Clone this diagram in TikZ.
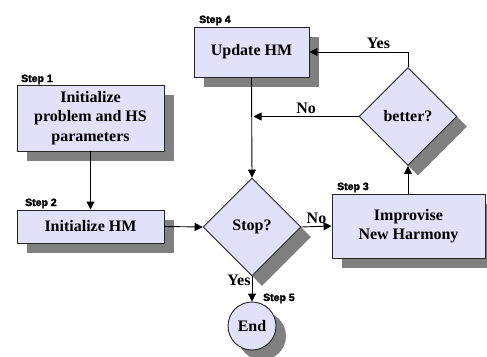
\documentclass[tikz,border=0pt]{standalone}
\usepackage{fontspec}
\setmainfont{Liberation Serif}
\setsansfont{Liberation Sans}
\newfontfamily\stepfont[FakeBold=2.5]{Liberation Sans Bold}
\usetikzlibrary{shapes.geometric,shadows,arrows.meta}
\definecolor{boxfill}{RGB}{225,225,250}
\definecolor{shadowgray}{RGB}{128,128,128}
\begin{document}
\begin{tikzpicture}[x=1pt,y=-1pt,
  shadowed/.style={draw=black!85,line width=0.9pt,fill=boxfill,
    drop shadow={shadow xshift=10pt,shadow yshift=-10pt,fill=shadowgray,opacity=1}},
  stepbox/.style={shadowed,rectangle,inner sep=0pt,align=center,
    font=\bfseries\fontsize{16}{19.5}\selectfont},
  decision/.style={shadowed,diamond,inner sep=0pt,minimum width=98pt,minimum height=98pt,
    font=\bfseries\fontsize{16}{19.5}\selectfont},
  endnode/.style={shadowed,circle,inner sep=0pt,minimum size=48pt,
    font=\bfseries\fontsize{16}{19.5}\selectfont},
  steplabel/.style={font=\stepfont\fontsize{10.5}{12}\selectfont,inner sep=0pt,anchor=base west},
  edgelabel/.style={font=\bfseries\fontsize{16}{19}\selectfont,inner sep=0pt},
  arr/.style={line width=0.9pt,-{Triangle[length=8pt,width=8pt]}}
]
\useasboundingbox (0,0) rectangle (487,356);
\node[stepbox,minimum width=147pt,minimum height=66pt] (s1) at (90.5,118) {Initialize\\problem and HS\\parameters};
\node[stepbox,minimum width=115pt,minimum height=50pt] (s4) at (251.5,52) {Update HM};
\node[stepbox,minimum width=147pt,minimum height=33pt] (s2) at (90.5,226.5) {Initialize HM};
\node[stepbox,minimum width=153pt,minimum height=64pt] (s3) at (408.5,226) {Improvise\\New Harmony};
\node[decision] (stop) at (252,227) {Stop?};
\node[decision] (better) at (408,116.5) {better?};
\node[endnode] (end) at (252,326) {End};

\node[steplabel] (l1) at (21,82) {Step 1};
\node[steplabel] (l4) at (199,23) {Step 4};
\node[steplabel] (l2) at (25,206) {Step 2};
\node[steplabel] (l3) at (337,190) {Step 3};
\node[steplabel] (l5) at (263,301) {Step 5};

\draw[arr] (s1.south) -- (s2.north);
\draw[arr] (s2.east) -- (stop.west);
\draw[arr] (stop.east) -- node[edgelabel,above=2pt] (nolab1) {No} (s3.west);
\draw[arr] (s3.north -| better.south) -- (better.south);
\coordinate (bt) at (better.north |- s4.east);
\draw[arr] (better.north) -- (bt) -- node[edgelabel,above=3pt,pos=0.3] (yeslab1) {Yes} (s4.east);
\coordinate (nojoin) at (s4.south |- better.west);
\draw[arr] (better.west) -- node[edgelabel,above=2pt,pos=0.5] (nolab2) {No} ([xshift=2pt]nojoin);
\draw[arr] (s4.south) -- (stop.north);
\draw[arr] (stop.south) -- node[edgelabel,left=1pt,pos=0.15] (yeslab2) {Yes} (end.north);
\end{tikzpicture}
\end{document}
